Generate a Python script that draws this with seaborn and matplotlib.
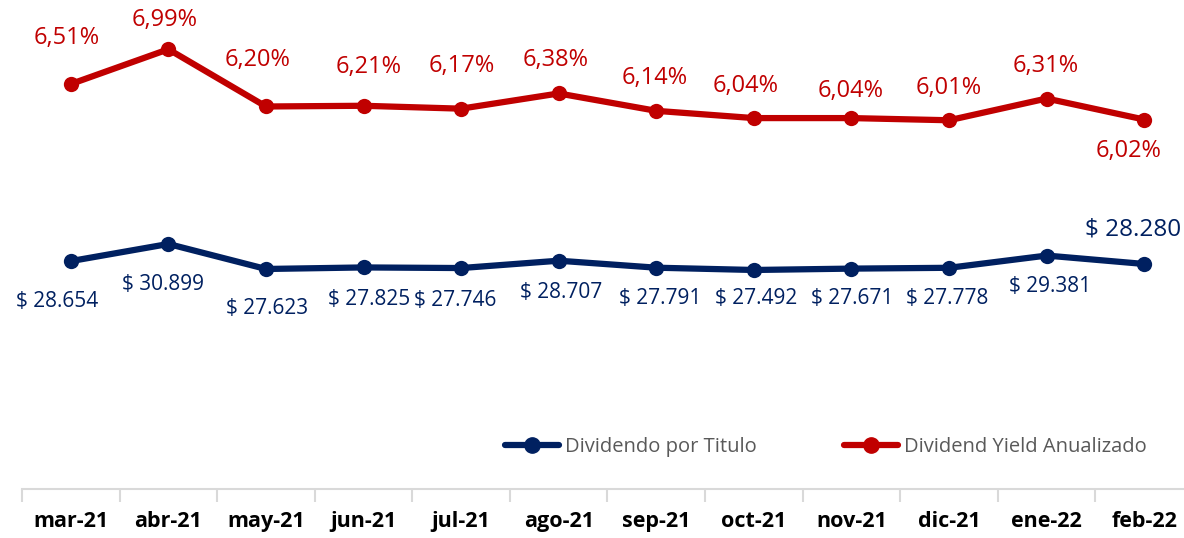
import matplotlib
matplotlib.use("Agg")
import matplotlib.pyplot as plt
from matplotlib.lines import Line2D
import seaborn as sns
import pandas as pd

sns.set_style("white")
plt.rcParams["font.family"] = ["Open Sans", "DejaVu Sans"]

# data
months = ["mar-21", "abr-21", "may-21", "jun-21", "jul-21", "ago-21",
          "sep-21", "oct-21", "nov-21", "dic-21", "ene-22", "feb-22"]
dividendo = [28654, 30899, 27623, 27825, 27746, 28707,
             27791, 27492, 27671, 27778, 29381, 28280]
yield_pct = [6.51, 6.99, 6.20, 6.21, 6.17, 6.38,
             6.14, 6.04, 6.04, 6.01, 6.31, 6.02]

df = pd.DataFrame({"pos": range(len(months)), "mes": months,
                   "dividendo": dividendo, "yield": yield_pct})

BLUE = "#002060"
RED = "#C00000"

# label offsets in pixels (dx, dy)
blue_off = [(-14, -40), (-5, -41), (1, -40), (6, -32), (-6, -32), (2, -32),
            (4, -31), (2, -29), (1, -30), (-2, -31), (3, -31), (-11, 34)]
red_off = [(-4, 46), (-4, 29), (-8, 46), (5, 39), (1, 43), (-3, 33),
           (-2, 33), (-8, 32), (-1, 27), (0, 32), (-1, 33), (-16, -31)]

fig = plt.figure(figsize=(11.84, 5.38), dpi=100)
ax = fig.add_axes([22 / 1184, 49 / 538, 1171 / 1184, 489 / 538])
ax2 = ax.twinx()

sns.lineplot(data=df, x="pos", y="dividendo", ax=ax, color=BLUE, lw=4.5,
             marker="o", markersize=11, markeredgewidth=0)
sns.lineplot(data=df, x="pos", y="yield", ax=ax2, color=RED, lw=4.5,
             marker="o", markersize=11, markeredgewidth=0)

ax.set_xlim(-0.5, len(months) - 0.5)
ax.set_ylim(-1200, 62860)
ax2.set_ylim(0.92, 7.67)

for i, v in enumerate(dividendo):
    txt = "$ " + f"{v:,}".replace(",", ".")
    dx, dy = blue_off[i]
    size = 17.5 if i == len(dividendo) - 1 else 15
    ax.annotate(txt, (i, v), xytext=(dx, dy), textcoords="offset pixels",
                ha="center", va="center", color=BLUE, fontsize=size)

for i, v in enumerate(yield_pct):
    txt = f"{v:.2f}".replace(".", ",") + "%"
    dx, dy = red_off[i]
    ax2.annotate(txt, (i, v), xytext=(dx, dy), textcoords="offset pixels",
                 ha="center", va="center", color=RED, fontsize=17)

for a in (ax, ax2):
    for s in ("top", "left", "right"):
        a.spines[s].set_visible(False)
    a.set_ylabel("")
    a.set_xlabel("")
    a.set_yticks([])
ax2.spines["bottom"].set_visible(False)
ax.spines["bottom"].set_color("#D9D9D9")
ax.spines["bottom"].set_linewidth(1.5)

ax.set_xticks(df["pos"])
ax.set_xticklabels(months, fontsize=15.5, fontweight="bold", color="black")
ax.set_xticks([p - 0.5 for p in range(len(months) + 1)], minor=True)
ax.tick_params(axis="x", which="major", length=0, pad=16)
ax.tick_params(axis="x", which="minor", length=9, width=1.5, color="#D9D9D9",
               direction="out", bottom=True)

handles = [Line2D([], [], color=BLUE, lw=4.5, marker="o", markersize=11),
           Line2D([], [], color=RED, lw=4.5, marker="o", markersize=11)]
fig.legend(handles, ["Dividendo por Titulo", "Dividend Yield Anualizado"],
           loc="center", bbox_to_anchor=(826 / 1184, 1 - 447 / 538), ncol=2,
           frameon=False, fontsize=14.5, labelcolor="#595959",
           handlelength=2.7, handletextpad=0.3, columnspacing=4.3)

fig.savefig("out.png", dpi=100)
